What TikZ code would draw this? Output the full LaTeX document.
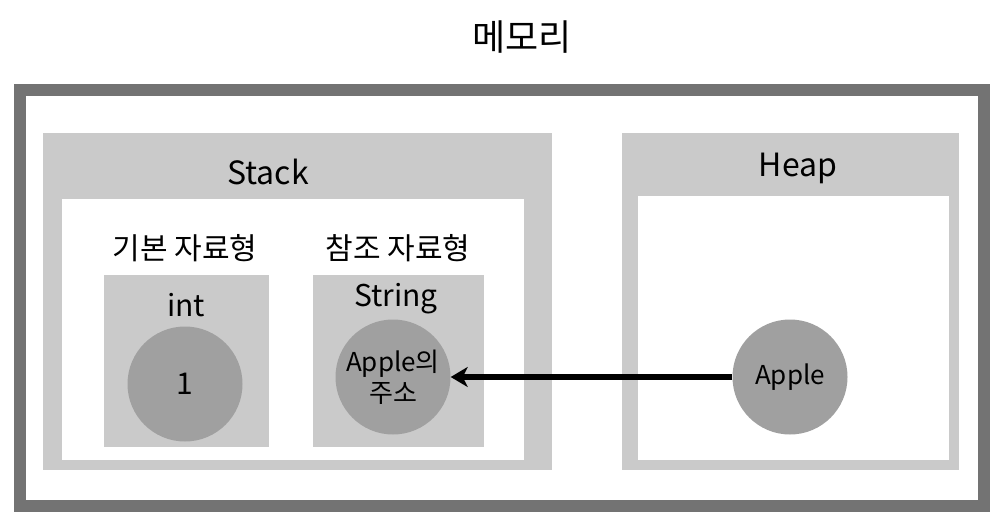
\documentclass[tikz,border=0pt]{standalone}
\usepackage{fontspec}
\setmainfont{Noto Sans CJK KR}
\usetikzlibrary{arrows.meta}
\definecolor{frame}{HTML}{737373}
\definecolor{lgray}{HTML}{CACACA}
\definecolor{cgray}{HTML}{A0A0A0}
\tikzset{
  panel/.style={fill=lgray, draw=none},
  inner/.style={fill=white, draw=none},
  val/.style={circle, fill=cgray, draw=none, minimum size=115pt, inner sep=0pt, align=center},
  lbl/.style={inner sep=0pt, anchor=center},
}
\begin{document}
\begin{tikzpicture}[x=1pt,y=-1pt]
\useasboundingbox (0,0) rectangle (1004,532);
\fill[white] (0,0) rectangle (1004,532);
% outer frame
\draw[frame, line width=12pt] (20,90) rectangle (984,506);
% stack
\fill[panel] (43,133) rectangle (552,470);
\fill[inner] (62,199) rectangle (524,460);
% heap
\fill[panel] (622,133) rectangle (959,470);
\fill[inner] (638,196) rectangle (949,460);
% type boxes
\fill[panel] (104,275) rectangle (269,447);
\fill[panel] (313,275) rectangle (484,447);
% labels
\node[lbl, font=\fontsize{36}{42}\selectfont] (title) at (522,37) {메모리};
\node[lbl, font=\fontsize{32}{38}\selectfont] (stack) at (268,172) {Stack};
\node[lbl, font=\fontsize{32}{38}\selectfont] (heap) at (798,168) {Heap};
\node[lbl, font=\fontsize{30}{36}\selectfont] (prim) at (185,248) {기본 자료형};
\node[lbl, font=\fontsize{30}{36}\selectfont] (ref) at (398,248) {참조 자료형};
\node[lbl, font=\fontsize{30}{36}\selectfont] (int) at (186,305) {int};
\node[lbl, font=\fontsize{30}{36}\selectfont] (string) at (396,299) {String};
% circles
\node[val, font=\fontsize{30}{36}\selectfont] (one) at (185,384) {1};
\node[val, font=\fontsize{26}{31}\selectfont] (addr) at (393,377) {Apple의\\주소};
\node[val, font=\fontsize{26}{31}\selectfont] (apple) at (790,377) {Apple};
% arrow
\draw[line width=6pt, -{Stealth[length=17pt,width=20pt,inset=5pt]}] (apple.west) -- (addr.east);
\end{tikzpicture}
\end{document}
